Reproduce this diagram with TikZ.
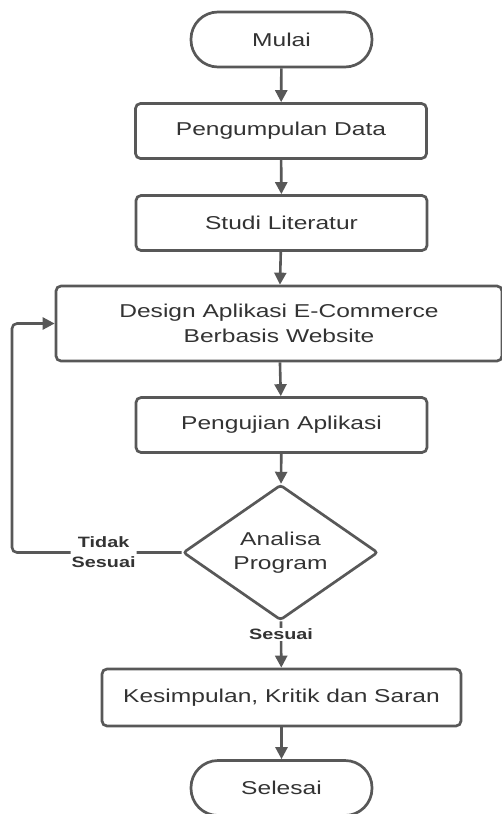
\documentclass[tikz,border=0pt]{standalone}
\usepackage{fontspec}
\setmainfont[FakeStretch=1.32]{Liberation Sans}
\usepackage{tikz}
\usetikzlibrary{arrows.meta,shapes.geometric}
\definecolor{garis}{HTML}{585858}
\definecolor{teks}{HTML}{333333}
\tikzset{
  kotak/.style={draw=garis, line width=2.7pt, rounded corners=5pt, fill=white, text=teks,
    inner sep=0pt, minimum width=291pt, minimum height=55pt, align=center,
    font=\fontsize{18.6}{25}\selectfont},
  terminal/.style={kotak, rounded corners=27pt, minimum width=181pt},
  keputusan/.style={kotak, shape=diamond, rounded corners=3pt, minimum width=195pt,
    minimum height=121pt, font=\fontsize{18.6}{24}\selectfont},
  label/.style={fill=white, text=teks, inner sep=1pt, align=center,
    font=\fontsize{15}{20}\selectfont\bfseries},
  panah/.style={draw=garis, line width=2.6pt, -{Triangle[length=12pt,width=12pt]}}
}
\begin{document}
\begin{tikzpicture}[x=1pt, y=-1pt]
			%%%%% START %%%%%
			\useasboundingbox (0, 0) rectangle (502, 814);
			
			\node[terminal] (mulai) at (281.5, 39.5) {Mulai};
			\node[kotak] (data) at (281, 131) {Pengumpulan Data};
			\node[kotak] (studi) at (281.5, 223) {Studi Literatur};
			\node[kotak, minimum width=446pt, minimum height=75pt] (design) at (279, 323.5) {Design Aplikasi E-Commerce\\Berbasis Website};
			\node[kotak] (uji) at (281.5, 425) {Pengujian Aplikasi};
			\node[keputusan] (analisa) at (280.5, 552.5) {Analisa\\Program};
			\node[kotak, minimum width=359pt, minimum height=57pt] (simpul) at (281.5, 697.5) {Kesimpulan, Kritik dan Saran};
			\node[terminal] (selesai) at (281.5, 788) {Selesai};
			\coordinate (belok) at (12, 552.5);
			
			\draw[panah] (mulai) -- (data);
			\draw[panah] (data) -- (studi);
			\draw[panah] (studi) -- (design);
			\draw[panah] (design) -- (uji);
			\draw[panah] (uji) -- (analisa);
			\draw[panah] (analisa) -- node[label, pos=0.28] (sesuai) {Sesuai} (simpul);
			\draw[panah] (simpul) -- (selesai);
			
			\draw[panah, rounded corners=5pt] (analisa.west) -- node[label, pos=0.46] (tidak) {Tidak\\Sesuai} (belok) |- (design.west);
			%%%%% END %%%%%
		\end{tikzpicture}
\end{document}
